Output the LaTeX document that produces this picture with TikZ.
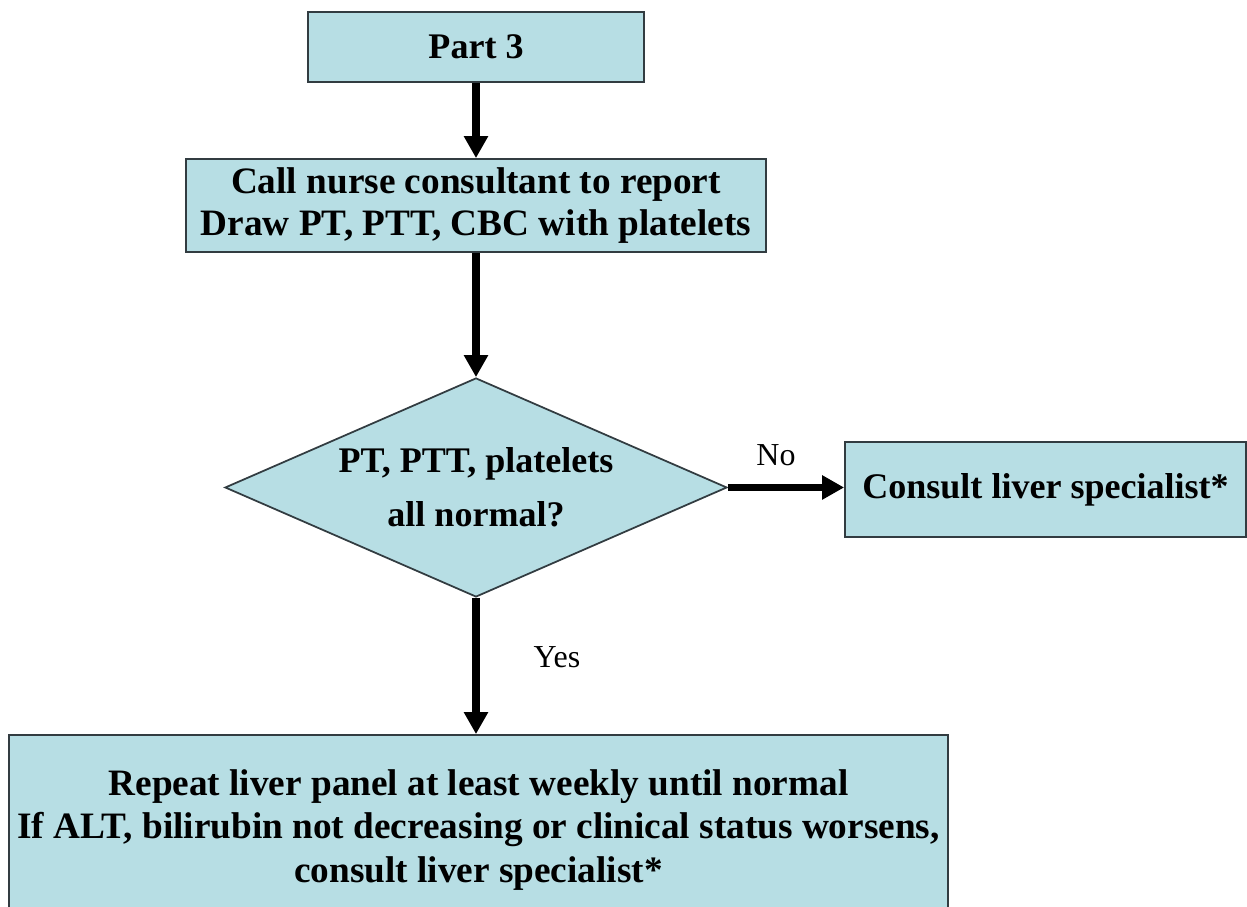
\documentclass[tikz,border=0pt]{standalone}
\usepackage{fontspec}
\setmainfont{Liberation Serif}
\usepackage{tikz}
\usetikzlibrary{shapes.geometric, positioning, arrows.meta, calc}
\definecolor{boxblue}{RGB}{183,222,228}
\definecolor{edgegray}{RGB}{50,60,65}

\begin{document}
\begin{tikzpicture}[
    proc/.style={draw=edgegray, line width=1pt, rectangle, fill=boxblue, align=center, inner sep=0.1cm, font=\fontsize{20.5}{24}\selectfont\bfseries},
    decision/.style={proc, diamond, aspect=2.3, inner sep=0pt, font=\fontsize{20.5}{30.7}\selectfont\bfseries},
    flow/.style={-{Triangle[width=0.46cm, length=0.44cm]}, line width=4pt},
    lbl/.style={font=\fontsize{18.2}{20}\selectfont}
]
    \clip (0,0) rectangle (24.94,18.14);

    % --- Main column ---
    \node[proc, minimum width=6.72cm, minimum height=1.4cm] (part) at (9.52, 17.2) {Part 3};
    \node[proc, minimum width=11.6cm, minimum height=1.86cm, font=\fontsize{21.2}{24}\selectfont\bfseries] (call) at (9.52, 14.03) {Call nurse consultant to report\\Draw PT, PTT, CBC with platelets};
    \node[decision, minimum width=10.04cm, minimum height=4.38cm] (check) at (9.52, 8.39) {PT, PTT, platelets\\all normal?};
    \node[proc, minimum width=18.78cm, minimum height=3.8cm, font=\fontsize{21.2}{25}\selectfont\bfseries] (panel) at (9.57, 1.54) {Repeat liver panel at least weekly until normal\\If ALT, bilirubin not decreasing or clinical status worsens,\\consult liver specialist*};

    % --- Side branch ---
    \node[proc, minimum width=8.02cm, minimum height=1.9cm] (spec) at (20.91, 8.35) {Consult liver specialist*};

    % Arrows
    \draw[flow] (part) -- (call);
    \draw[flow] (call) -- (check);
    \draw[flow] (check.east) -- (check.east -| spec.west);
    \draw[flow] (check.south) -- (panel.north -| check.south);

    % Branch labels
    \node[lbl] (no) at (15.52, 9.04) {No};
    \node[lbl] (yes) at (11.14, 5.0) {Yes};

\end{tikzpicture}
\end{document}
